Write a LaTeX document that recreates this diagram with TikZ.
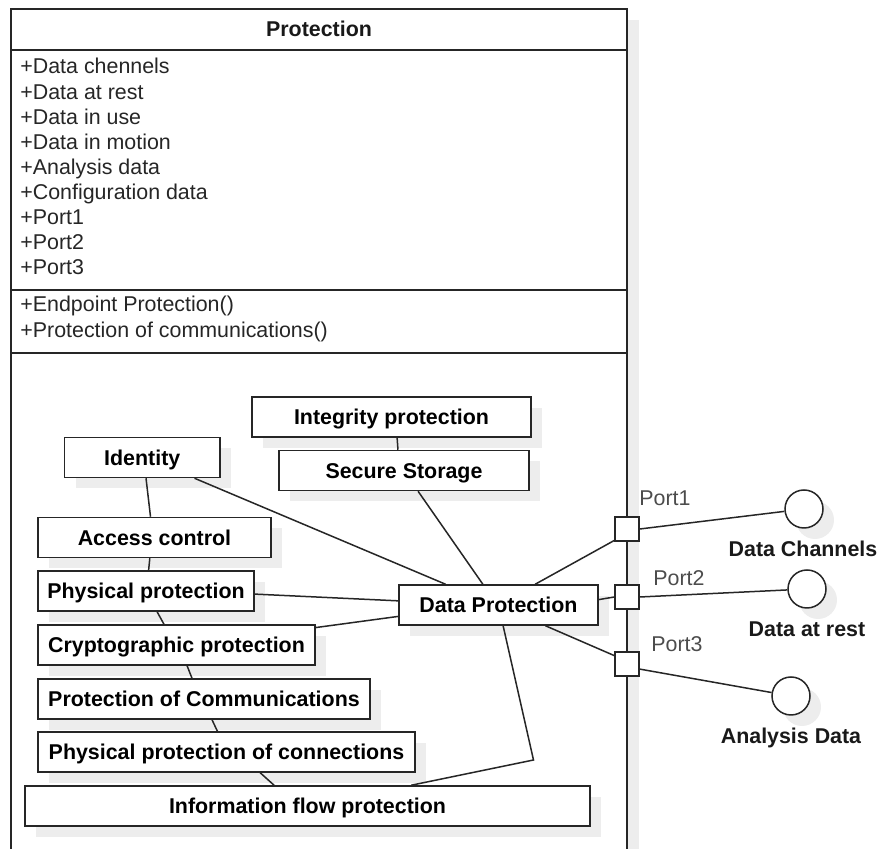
\documentclass[tikz,border=0pt]{standalone}
\usepackage{fontspec}
\setmainfont{Liberation Sans}
\usetikzlibrary{calc,shadows}

\begin{document}
\begin{tikzpicture}[x=0.5pt,y=-0.5pt,
  line/.style={draw=black!85, line width=0.75pt},
  shade/.style={drop shadow={shadow xshift=5.5pt, shadow yshift=-5.5pt, fill=black!7, opacity=1}},
  box/.style={draw=black!85, line width=0.75pt, fill=white, inner sep=0pt,
    minimum height=20pt, font=\fontsize{10.7}{12}\selectfont\bfseries,
    text height=7.7pt, text depth=0pt, shade},
  port/.style={draw=black!85, line width=0.75pt, fill=white, inner sep=0pt, minimum size=12pt},
  iface/.style={circle, draw=black!85, line width=0.75pt, fill=white, inner sep=0pt, minimum size=19pt, shade},
  attr/.style={inner sep=0pt, text=black!85, font=\fontsize{10.7}{12}\selectfont},
  plabel/.style={inner sep=0pt, anchor=west, text=black!70, font=\fontsize{10.7}{12}\selectfont,
    text height=7.7pt, text depth=0pt},
  ilabel/.style={inner sep=0pt, text=black!90, font=\fontsize{10.7}{12}\selectfont\bfseries,
    text height=7.7pt, text depth=0pt}
]
\useasboundingbox (0,0) rectangle (880,849);
\clip (0,0) rectangle (880,849);

% class frame with its shadow and compartments
\fill[black!7] (22,20) rectangle (639,870);
\fill[white] (11,9) rectangle (627,870);
\draw[line] (11,870) -- (11,9) -- (627,9) -- (627,870);
\draw[line] (11,50) -- (627,50);
\draw[line] (11,290) -- (627,290);
\draw[line] (11,353) -- (627,353);

\node[attr, anchor=base, font=\fontsize{10.7}{12}\selectfont\bfseries, text=black!90] (cls) at (319,36.7) {Protection};

\foreach \t [count=\i] in {+Data chennels, +Data at rest, +Data in use, +Data in motion,
    +Analysis data, +Configuration data, +Port1, +Port2, +Port3}
  \node[attr, anchor=base west] (attr\i) at (20,{74+25.1*(\i-1)}) {\t};

\node[attr, anchor=base west] (op1) at (20,312) {+Endpoint Protection()};
\node[attr, anchor=base west] (op2) at (20,338) {+Protection of communications()};

% inner parts
\node[box, minimum width=139.5pt] (integ) at (391.5,417) {Integrity protection};
\node[box, minimum width=77.75pt] (ident) at (142.25,457.5) {Identity};
\node[box, minimum width=125pt] (secure) at (404,470.5) {Secure Storage};
\node[box, minimum width=116.5pt] (access) at (154.5,537.5) {Access control};
\node[box, minimum width=108pt] (phys) at (146,591) {Physical protection};
\node[box, minimum width=138.5pt] (crypto) at (176.5,645) {Cryptographic protection};
\node[box, minimum width=166pt] (comm) at (204,699) {Protection of Communications};
\node[box, minimum width=188.5pt] (physconn) at (226.5,752) {Physical protection of connections};
\node[box, minimum width=282.5pt] (info) at (307.5,806) {Information flow protection};
\node[box, minimum width=99.5pt] (dp) at (498.5,605) {Data Protection};

% ports on the class border
\node[port] (p1) at (627,529) {};
\node[port] (p2) at (627,597) {};
\node[port] (p3) at (627,664) {};
\node[plabel] (p1l) at (639,498) {Port1};
\node[plabel] (p2l) at (653,578) {Port2};
\node[plabel] (p3l) at (651,644) {Port3};

% provided interfaces
\node[iface] (c1) at (804,509) {};
\node[iface] (c2) at (807,589) {};
\node[iface] (c3) at (791,696) {};
\node[ilabel] (c1l) at (803,549) {Data Channels};
\node[ilabel] (c2l) at (807,629) {Data at rest};
\node[ilabel] (c3l) at (791,736) {Analysis Data};

% connectors
\draw[line] ($(integ.south west)!0.52!(integ.south east)$) -- ($(secure.north west)!0.476!(secure.north east)$);
\draw[line] ($(ident.south west)!0.524!(ident.south east)$) -- ($(access.north west)!0.483!(access.north east)$);
\draw[line] ($(ident.south west)!0.833!(ident.south east)$) -- ($(dp.north west)!0.236!(dp.north east)$);
\draw[line] ($(secure.south west)!0.556!(secure.south east)$) -- ($(dp.north west)!0.422!(dp.north east)$);
\draw[line] ($(access.south west)!0.48!(access.south east)$) -- ($(phys.north west)!0.512!(phys.north east)$);
\draw[line] ($(phys.north east)!0.575!(phys.south east)$) -- ($(dp.north west)!0.4!(dp.south west)$);
\draw[line] ($(phys.south west)!0.551!(phys.south east)$) -- ($(crypto.north west)!0.455!(crypto.north east)$);
\draw[line] ($(crypto.north east)!0.08!(crypto.south east)$) -- ($(dp.north west)!0.775!(dp.south west)$);
\draw[line] ($(crypto.south west)!0.538!(crypto.south east)$) -- ($(comm.north west)!0.464!(comm.north east)$);
\draw[line] ($(comm.south west)!0.524!(comm.south east)$) -- ($(physconn.north west)!0.476!(physconn.north east)$);
\draw[line] ($(physconn.south west)!0.589!(physconn.south east)$) -- ($(info.north west)!0.441!(info.north east)$);
\coordinate (bend) at (533.5,760);
\draw[line] ($(dp.south west)!0.523!(dp.south east)$) -- (bend) -- ($(info.north west)!0.683!(info.north east)$);

\draw[line] ($(dp.north west)!0.683!(dp.north east)$) -- ($(p1.south west)!0.05!(p1.north west)$);
\draw[line] ($(dp.north east)!0.37!(dp.south east)$) -- (p2.west);
\draw[line] ($(dp.south west)!0.734!(dp.south east)$) -- ($(p3.north west)!0.17!(p3.south west)$);
\draw[line] (p1.east) -- (c1);
\draw[line] (p2.east) -- (c2);
\draw[line] ($(p3.north east)!0.7!(p3.south east)$) -- (c3);
\end{tikzpicture}
\end{document}
